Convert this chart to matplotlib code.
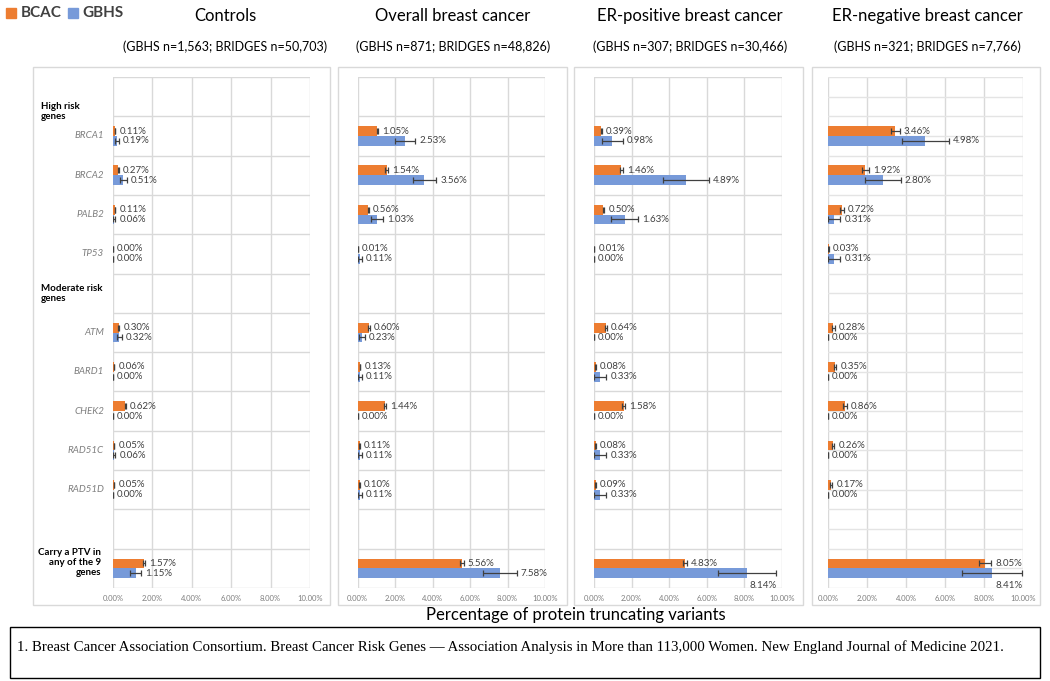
import matplotlib
matplotlib.use("Agg")
import matplotlib.pyplot as plt
from matplotlib.patches import Rectangle
from matplotlib.transforms import blended_transform_factory
import numpy as np

plt.rcParams['font.family'] = ['Lato', 'DejaVu Sans']

# ---------------- data ----------------
genes = ["BRCA1", "BRCA2", "PALB2", "TP53", "ATM", "BARD1", "CHEK2",
         "RAD51C", "RAD51D", "Carry a PTV in\nany of the 9\ngenes"]
gene_rows = [1, 2, 3, 4, 6, 7, 8, 9, 10, 12]
headers = ["High risk\ngenes", "Moderate risk\ngenes"]
header_rows = [0, 5]
n_rows = 13

titles = ["Controls", "Overall breast cancer", "ER-positive breast cancer",
          "ER-negative breast cancer"]
subtitles = ["(GBHS n=1,563; BRIDGES n=50,703)", "(GBHS n=871; BRIDGES n=48,826)",
             "(GBHS n=307; BRIDGES n=30,466)", "(GBHS n=321; BRIDGES n=7,766)"]

ctrl_bcac = [0.11, 0.27, 0.11, 0.00, 0.30, 0.06, 0.62, 0.05, 0.05, 1.57]
ctrl_gbhs = [0.19, 0.51, 0.06, 0.00, 0.32, 0.00, 0.00, 0.06, 0.00, 1.15]
overall_bcac = [1.05, 1.54, 0.56, 0.01, 0.60, 0.13, 1.44, 0.11, 0.10, 5.56]
overall_gbhs = [2.53, 3.56, 1.03, 0.11, 0.23, 0.11, 0.00, 0.11, 0.11, 7.58]
erpos_bcac = [0.39, 1.46, 0.50, 0.01, 0.64, 0.08, 1.58, 0.08, 0.09, 4.83]
erpos_gbhs = [0.98, 4.89, 1.63, 0.00, 0.00, 0.33, 0.00, 0.33, 0.33, 8.14]
erneg_bcac = [3.46, 1.92, 0.72, 0.03, 0.28, 0.35, 0.86, 0.26, 0.17, 8.05]
erneg_gbhs = [4.98, 2.80, 0.31, 0.31, 0.00, 0.00, 0.00, 0.00, 0.00, 8.41]

ctrl_bcac_err = [0.015, 0.023, 0.015, 0.0, 0.024, 0.011, 0.035, 0.010, 0.010, 0.055]
ctrl_gbhs_err = [0.11, 0.18, 0.06, 0.0, 0.14, 0.0, 0.0, 0.06, 0.0, 0.27]
overall_bcac_err = [0.046, 0.056, 0.034, 0.005, 0.035, 0.016, 0.054, 0.015, 0.014, 0.10]
overall_gbhs_err = [0.53, 0.63, 0.34, 0.11, 0.16, 0.11, 0.0, 0.11, 0.11, 0.90]
erpos_bcac_err = [0.036, 0.069, 0.040, 0.006, 0.046, 0.016, 0.071, 0.016, 0.017, 0.12]
erpos_gbhs_err = [0.56, 1.23, 0.72, 0.0, 0.0, 0.33, 0.0, 0.33, 0.33, 1.56]
erneg_bcac_err = [0.21, 0.16, 0.096, 0.02, 0.06, 0.067, 0.105, 0.058, 0.047, 0.31]
erneg_gbhs_err = [1.21, 0.92, 0.31, 0.31, 0.0, 0.0, 0.0, 0.0, 0.0, 1.55]

bcac_sets = [ctrl_bcac, overall_bcac, erpos_bcac, erneg_bcac]
gbhs_sets = [ctrl_gbhs, overall_gbhs, erpos_gbhs, erneg_gbhs]
bcac_errs = [ctrl_bcac_err, overall_bcac_err, erpos_bcac_err, erneg_bcac_err]
gbhs_errs = [ctrl_gbhs_err, overall_gbhs_err, erpos_gbhs_err, erneg_gbhs_err]

xticks = [0, 2, 4, 6, 8, 10]
series_names = ["BCAC", "GBHS"]
footnote = ("1. Breast Cancer Association Consortium. Breast Cancer Risk Genes \u2014 Association "
            "Analysis in More than 113,000 Women. New England Journal of Medicine 2021.")
xlabel = "Percentage of protein truncating variants"

# ---------------- style ----------------
ORANGE = "#ED7D31"
BLUE = "#779AD9"
GRID = "#D9D9D9"
TXT = "#404040"

W, H = 1050, 681
fig = plt.figure(figsize=(W / 100, H / 100), dpi=100)

def fx(px):
    return px / W

def fy(py):
    return 1 - py / H

# axes pixel extents (left, right) and panel boxes
ax_x = [(113, 310), (357.7, 545), (594, 782), (828, 1023)]
box_x = [(33, 330), (338, 567), (574, 803), (812, 1040)]
title_cx = [225, 453, 690, 927]
ax_top, ax_bot = 77, 588
box_top, box_bot = 67, 605

for (bl, br) in box_x:
    fig.patches.append(Rectangle((fx(bl), fy(box_bot)), fx(br - bl), (box_bot - box_top) / H,
                                 transform=fig.transFigure, fill=False,
                                 edgecolor=GRID, linewidth=1.0))

bh = 0.25
y_rows = np.array(gene_rows, dtype=float)
for p in range(4):
    l, r = ax_x[p]
    ax = fig.add_axes([fx(l), fy(ax_bot), fx(r - l), (ax_bot - ax_top) / H])
    ax.set_xlim(0, 10)
    ax.set_ylim(n_rows - 0.5, -0.5)
    # grid
    for xv in xticks:
        ax.axvline(xv, color=GRID, lw=1.0, zorder=0)
    hlines = np.arange(-0.5, n_rows, 1.0)
    if p == 3:
        hlines = np.arange(-0.5, n_rows, 0.5)
    for hv in hlines:
        ax.axhline(hv, color=GRID if p != 3 else "#E4E4E4", lw=1.0, zorder=0)
    for s in ax.spines.values():
        s.set_visible(False)
    ax.set_yticks([])
    ax.set_xticks(xticks)
    ax.set_xticklabels([f"{v:.2f}%" for v in xticks], fontsize=5.5, color="#7F7F7F")
    ax.tick_params(axis='x', length=0, pad=5)

    b = np.array(bcac_sets[p]); g = np.array(gbhs_sets[p])
    be = np.array(bcac_errs[p]); ge = np.array(gbhs_errs[p])
    yo = y_rows - bh / 2
    yb = y_rows + bh / 2
    ax.barh(yo, b, height=bh, color=ORANGE, zorder=2)
    ax.barh(yb, g, height=bh, color=BLUE, zorder=2)
    ax.errorbar(b, yo, xerr=be, fmt='none', ecolor="#404040", elinewidth=0.9,
                capsize=2.2, capthick=0.9, zorder=3)
    ax.errorbar(g, yb, xerr=ge, fmt='none', ecolor="#404040", elinewidth=0.9,
                capsize=2.2, capthick=0.9, zorder=3)
    for vals, errs, ys in ((b, be, yo), (g, ge, yb)):
        for v, e, yy in zip(vals, errs, ys):
            end = v + e
            if end > 9.0:
                ax.text(end, yy + 0.32, f"{v:.2f}%", ha='right', va='center',
                        fontsize=7, color=TXT, zorder=4)
            else:
                ax.annotate(f"{v:.2f}%", xy=(end, yy), xytext=(3, 0),
                            textcoords='offset points', ha='left', va='center',
                            fontsize=7, color=TXT, zorder=4)

    if p == 0:
        tr = blended_transform_factory(fig.transFigure, ax.transData)
        for name, row in zip(genes[:-1], gene_rows[:-1]):
            ax.text(fx(104), row, name, transform=tr, ha='right', va='center',
                    fontsize=7, style='italic', color="#7F7F7F")
        ax.text(fx(101), gene_rows[-1] - 0.15, genes[-1], transform=tr, ha='right',
                va='center', fontsize=7, fontweight='bold', color='black',
                multialignment='right', linespacing=1.15)
        for name, row in zip(headers, header_rows):
            off = 0.38 if row == 0 else 0.0
            ax.text(fx(41), row + off, name, transform=tr, ha='left', va='center',
                    fontsize=7, fontweight='bold', color='black', linespacing=1.15)

    fig.text(fx(title_cx[p]), fy(16), titles[p], ha='center', va='center',
             fontsize=12, color='black')
    fig.text(fx(title_cx[p]), fy(47), subtitles[p], ha='center', va='center',
             fontsize=9, color='black')

# legend
fig.patches.append(Rectangle((fx(6), fy(18)), fx(10), 10 / H, transform=fig.transFigure,
                             color=ORANGE))
fig.text(fx(21), fy(13), series_names[0], ha='left', va='center', fontsize=11,
         fontweight='bold', color='#404040')
fig.patches.append(Rectangle((fx(68), fy(18)), fx(10), 10 / H, transform=fig.transFigure,
                             color=BLUE))
fig.text(fx(82), fy(13), series_names[1], ha='left', va='center', fontsize=11,
         fontweight='bold', color='#404040')

# x label
fig.text(fx(576), fy(615), xlabel, ha='center', va='center', fontsize=12, color='black')

# footnote
fig.patches.append(Rectangle((fx(10), fy(678)), fx(1030), 51 / H, transform=fig.transFigure,
                             fill=False, edgecolor='black', linewidth=1.0))
fig.text(fx(17), fy(647), footnote, ha='left', va='center', fontsize=10.75,
         family=['Liberation Serif', 'DejaVu Serif'], color='black')

fig.savefig("out.png", dpi=100, facecolor='white')
